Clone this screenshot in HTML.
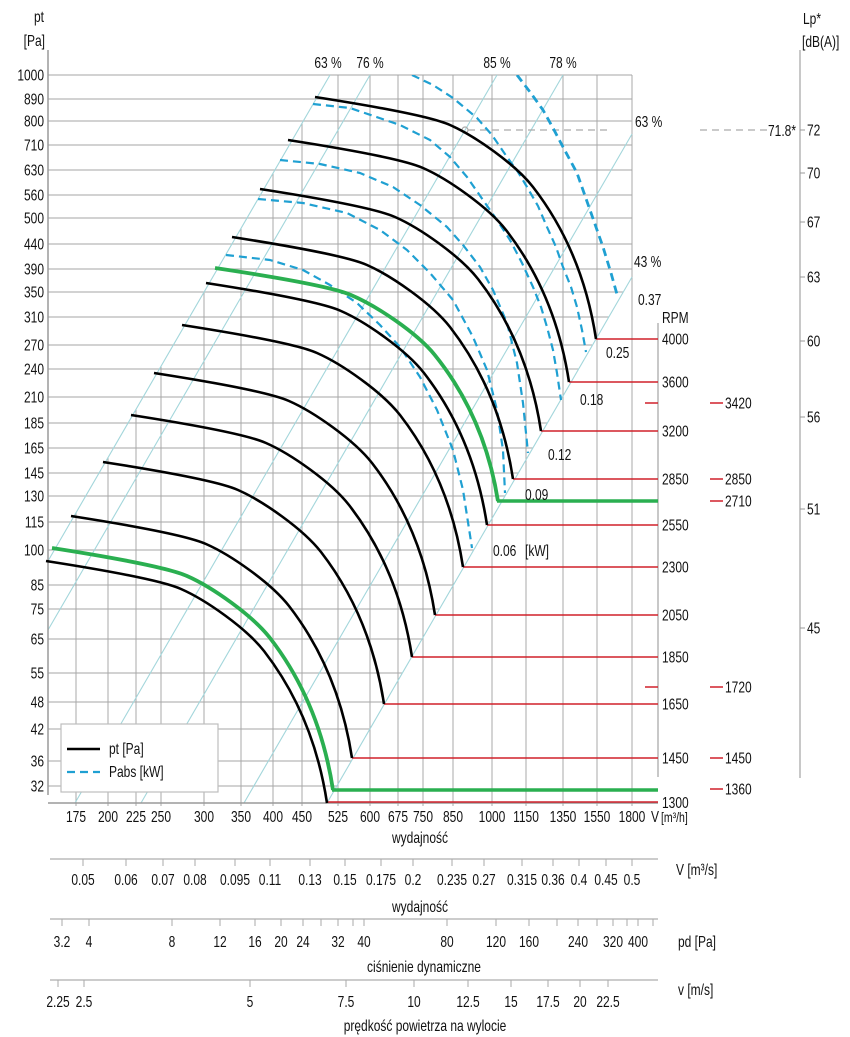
<!DOCTYPE html>
<html><head><meta charset="utf-8"><style>body{margin:0;background:#fff}svg{display:block}</style></head>
<body>
<svg width="850" height="1037" viewBox="0 0 850 1037" xmlns="http://www.w3.org/2000/svg" font-family="'Liberation Sans', Arial, sans-serif" font-size="16" fill="#111">
<defs><clipPath id="pc"><rect x="46" y="75" width="590" height="730"/></clipPath></defs>
<rect width="850" height="1037" fill="#fff"/>

<!-- horizontal grid -->
<g stroke="#b8b8b8" stroke-width="1.3">
<line x1="48" y1="75" x2="632" y2="75"/><line x1="48" y1="99" x2="632" y2="99"/><line x1="48" y1="121" x2="632" y2="121"/><line x1="48" y1="145" x2="632" y2="145"/><line x1="48" y1="170" x2="632" y2="170"/><line x1="48" y1="195" x2="632" y2="195"/><line x1="48" y1="218" x2="632" y2="218"/><line x1="48" y1="244" x2="632" y2="244"/><line x1="48" y1="269" x2="632" y2="269"/><line x1="48" y1="292" x2="623" y2="292"/><line x1="48" y1="317" x2="609" y2="317"/><line x1="48" y1="345" x2="592" y2="345"/><line x1="48" y1="369" x2="579" y2="369"/><line x1="48" y1="397" x2="562" y2="397"/><line x1="48" y1="423" x2="547" y2="423"/><line x1="48" y1="448" x2="533" y2="448"/><line x1="48" y1="473" x2="518" y2="473"/><line x1="48" y1="496" x2="505" y2="496"/><line x1="48" y1="522" x2="490" y2="522"/><line x1="48" y1="550" x2="474" y2="550"/><line x1="48" y1="585" x2="453" y2="585"/><line x1="48" y1="609" x2="439" y2="609"/><line x1="48" y1="639" x2="422" y2="639"/><line x1="48" y1="673" x2="402" y2="673"/><line x1="48" y1="702" x2="386" y2="702"/><line x1="48" y1="729" x2="370" y2="729"/><line x1="48" y1="761" x2="351" y2="761"/><line x1="48" y1="786" x2="337" y2="786"/>
</g>
<!-- vertical grid -->
<g stroke="#a8a8a8" stroke-width="1">
<line x1="76" y1="513" x2="76" y2="806"/><line x1="108" y1="457" x2="108" y2="806"/><line x1="136" y1="409" x2="136" y2="806"/><line x1="161" y1="366" x2="161" y2="806"/><line x1="204" y1="292" x2="204" y2="806"/><line x1="241" y1="228" x2="241" y2="806"/><line x1="273" y1="173" x2="273" y2="806"/><line x1="302" y1="123" x2="302" y2="806"/><line x1="338" y1="75" x2="338" y2="806"/><line x1="370" y1="75" x2="370" y2="806"/><line x1="398" y1="75" x2="398" y2="806"/><line x1="423" y1="75" x2="423" y2="806"/><line x1="453" y1="75" x2="453" y2="806"/><line x1="492" y1="75" x2="492" y2="806"/><line x1="526" y1="75" x2="526" y2="806"/><line x1="563" y1="75" x2="563" y2="806"/><line x1="597" y1="75" x2="597" y2="806"/><line x1="632" y1="75" x2="632" y2="806"/>
</g>
<!-- cyan efficiency lines -->
<g stroke="#a3d6db" stroke-width="1.1">
<line x1="48" y1="561" x2="330" y2="75"/><line x1="48" y1="630" x2="370" y2="75"/><line x1="75" y1="803" x2="497" y2="75"/><line x1="141" y1="803" x2="563" y2="75"/><line x1="244" y1="803" x2="632" y2="134"/><line x1="327" y1="803" x2="632" y2="277"/>
</g>
<!-- axes -->
<g stroke="#9a9a9a" stroke-width="1.5">
<line x1="48" y1="50" x2="48" y2="795"/><line x1="48" y1="803" x2="658" y2="803"/><line x1="658" y1="323" x2="658" y2="777" stroke="#b5b5b5"/><line x1="800" y1="50" x2="800" y2="778" stroke="#b5b5b5"/>
</g>

<!-- 71.8 dashed -->
<g stroke="#aaa" stroke-width="1.2" fill="none">
<line x1="468" y1="130" x2="607" y2="130" stroke-dasharray="7 5"/><circle cx="465" cy="130" r="3"/><line x1="700" y1="130" x2="768" y2="130" stroke-dasharray="7 5"/>
</g>

<!-- red RPM lines -->
<g stroke="#d0202a" stroke-width="1.5">
<line x1="596" y1="339" x2="658" y2="339"/><line x1="569" y1="382" x2="658" y2="382"/><line x1="541" y1="431" x2="658" y2="431"/><line x1="513" y1="479" x2="658" y2="479"/><line x1="487" y1="525" x2="658" y2="525"/><line x1="463" y1="567" x2="658" y2="567"/><line x1="435" y1="615" x2="658" y2="615"/><line x1="412" y1="657" x2="658" y2="657"/><line x1="384" y1="704" x2="658" y2="704"/><line x1="352" y1="758" x2="658" y2="758"/><line x1="327" y1="802" x2="658" y2="802"/>
<line x1="645" y1="403" x2="658" y2="403"/><line x1="645" y1="687" x2="658" y2="687"/>
<line x1="710" y1="403" x2="723" y2="403"/><line x1="710" y1="479" x2="723" y2="479"/><line x1="710" y1="501" x2="723" y2="501"/><line x1="710" y1="687" x2="723" y2="687"/><line x1="710" y1="758" x2="723" y2="758"/><line x1="710" y1="789" x2="723" y2="789"/>
</g>
<g stroke="#2aaf50" stroke-width="3.6">
<line x1="497" y1="501" x2="658" y2="501"/><line x1="332" y1="790" x2="658" y2="790"/>
</g>

<!-- dashed Pabs curves -->
<g clip-path="url(#pc)" fill="none" stroke="#1fa0d2" stroke-width="2.2" stroke-dasharray="8 5" stroke-linejoin="round">
<polyline stroke-width="2.8" points="517,75 530,92 543,110 553,128 563,147 577,173 590,210 603,247 611,273 618,298"/>
<polyline points="412,75 433,85 453,98 477,118 492,135 507,157 518,172 527,187 538,206 547,227 556,247 563,267 571,287 577,307 582,330 586,352"/>
<polyline points="313,104 350,108 400,125 430,140 450,157 467,177 483,200 497,220 510,240 522,263 533,287 541,307 547,327 553,350 557,373 561,400"/>
<polyline points="280,160 320,164 360,173 393,187 420,205 447,227 463,245 480,267 493,290 507,323 517,363 523,403 528,453"/>
<polyline points="258,199 303,203 347,213 380,230 407,250 430,273 453,300 473,337 487,370 497,410 503,450 505,493"/>
<polyline points="226,255 270,260 303,270 330,285 357,303 380,325 400,347 420,377 437,410 453,450 463,490 472,548"/>
</g>

<!-- pt curves -->
<g fill="none" stroke="#000" stroke-width="2.6" stroke-linecap="butt">
<path transform="translate(315,97)" d="M0,0 C45,7 115,19 135,28 C160,39 200,67 218,90 C242,121 270,170 281,242"/>
<path transform="translate(288,140)" d="M0,0 C45,7 115,19 135,28 C160,39 200,67 218,90 C242,121 270,170 281,242"/>
<path transform="translate(260,189)" d="M0,0 C45,7 115,19 135,28 C160,39 200,67 218,90 C242,121 270,170 281,242"/>
<path transform="translate(232,237)" d="M0,0 C45,7 115,19 135,28 C160,39 200,67 218,90 C242,121 270,170 281,242"/>
<path transform="translate(206,283)" d="M0,0 C45,7 115,19 135,28 C160,39 200,67 218,90 C242,121 270,170 281,242"/>
<path transform="translate(182,325)" d="M0,0 C45,7 115,19 135,28 C160,39 200,67 218,90 C242,121 270,170 281,242"/>
<path transform="translate(154,373)" d="M0,0 C45,7 115,19 135,28 C160,39 200,67 218,90 C242,121 270,170 281,242"/>
<path transform="translate(131,415)" d="M0,0 C45,7 115,19 135,28 C160,39 200,67 218,90 C242,121 270,170 281,242"/>
<path transform="translate(103,462)" d="M0,0 C45,7 115,19 135,28 C160,39 200,67 218,90 C242,121 270,170 281,242"/>
<path transform="translate(71,516)" d="M0,0 C45,7 115,19 135,28 C160,39 200,67 218,90 C242,121 270,170 281,242"/>
<path transform="translate(46,561)" d="M0,0 C45,7 115,19 135,28 C160,39 200,67 218,90 C242,121 270,170 281,242"/>
</g>
<g fill="none" stroke="#2aaf50" stroke-width="3.8">
<path transform="translate(52,548)" d="M0,0 C45,7 115,19 135,28 C160,39 200,67 218,90 C242,121 270,170 281,242"/>
<path transform="translate(215,268) scale(1.007,0.963)" vector-effect="non-scaling-stroke" d="M0,0 C45,7 115,19 135,28 C160,39 200,67 218,90 C242,121 270,170 281,242"/>
</g>

<!-- legend -->
<rect x="61" y="724" width="157" height="68" fill="#fff" stroke="#bdbdbd" stroke-width="1.2"/>
<line x1="67" y1="749" x2="100" y2="749" stroke="#000" stroke-width="2.6"/>
<line x1="67" y1="772" x2="100" y2="772" stroke="#1fa0d2" stroke-width="2.2" stroke-dasharray="8 5"/>
<text transform="translate(109,754) scale(.75,1)">pt [Pa]</text>
<text transform="translate(109,777) scale(.75,1)">Pabs [kW]</text>

<!-- y labels -->
<g text-anchor="end">
<text transform="translate(44,22) scale(.75,1)">pt</text>
<text transform="translate(45,46) scale(.75,1)">[Pa]</text>
<text transform="translate(44,80.5) scale(.75,1)">1000</text>
<text transform="translate(44,104.5) scale(.75,1)">890</text>
<text transform="translate(44,126.5) scale(.75,1)">800</text>
<text transform="translate(44,150.5) scale(.75,1)">710</text>
<text transform="translate(44,175.5) scale(.75,1)">630</text>
<text transform="translate(44,200.5) scale(.75,1)">560</text>
<text transform="translate(44,223.5) scale(.75,1)">500</text>
<text transform="translate(44,249.5) scale(.75,1)">440</text>
<text transform="translate(44,274.5) scale(.75,1)">390</text>
<text transform="translate(44,297.5) scale(.75,1)">350</text>
<text transform="translate(44,322.5) scale(.75,1)">310</text>
<text transform="translate(44,350.5) scale(.75,1)">270</text>
<text transform="translate(44,374.5) scale(.75,1)">240</text>
<text transform="translate(44,402.5) scale(.75,1)">210</text>
<text transform="translate(44,428.5) scale(.75,1)">185</text>
<text transform="translate(44,453.5) scale(.75,1)">165</text>
<text transform="translate(44,478.5) scale(.75,1)">145</text>
<text transform="translate(44,501.5) scale(.75,1)">130</text>
<text transform="translate(44,527.5) scale(.75,1)">115</text>
<text transform="translate(44,555.5) scale(.75,1)">100</text>
<text transform="translate(44,590.5) scale(.75,1)">85</text>
<text transform="translate(44,614.5) scale(.75,1)">75</text>
<text transform="translate(44,644.5) scale(.75,1)">65</text>
<text transform="translate(44,678.5) scale(.75,1)">55</text>
<text transform="translate(44,707.5) scale(.75,1)">48</text>
<text transform="translate(44,734.5) scale(.75,1)">42</text>
<text transform="translate(44,766.5) scale(.75,1)">36</text>
<text transform="translate(44,791.5) scale(.75,1)">32</text>
</g>

<!-- top / efficiency labels -->
<g text-anchor="middle">
<text transform="translate(328,68) scale(.75,1)">63 %</text>
<text transform="translate(370,68) scale(.75,1)">76 %</text>
<text transform="translate(497,68) scale(.75,1)">85 %</text>
<text transform="translate(563,68) scale(.75,1)">78 %</text>
</g>
<text transform="translate(635,127) scale(.75,1)">63 %</text>
<text transform="translate(634,267) scale(.75,1)">43 %</text>
<text transform="translate(638,305) scale(.75,1)">0.37</text>
<text transform="translate(606,358) scale(.75,1)">0.25</text>
<text transform="translate(580,405) scale(.75,1)">0.18</text>
<text transform="translate(548,460) scale(.75,1)">0.12</text>
<text transform="translate(525,500) scale(.75,1)">0.09</text>
<text transform="translate(493,556) scale(.75,1)">0.06</text>
<text transform="translate(525,556) scale(.75,1)">[kW]</text>

<!-- RPM labels -->
<text transform="translate(662,323) scale(.75,1)">RPM</text>
<text transform="translate(662,344.5) scale(.75,1)">4000</text>
<text transform="translate(662,387.5) scale(.75,1)">3600</text>
<text transform="translate(662,436.5) scale(.75,1)">3200</text>
<text transform="translate(662,484.5) scale(.75,1)">2850</text>
<text transform="translate(662,530.5) scale(.75,1)">2550</text>
<text transform="translate(662,572.5) scale(.75,1)">2300</text>
<text transform="translate(662,620.5) scale(.75,1)">2050</text>
<text transform="translate(662,662.5) scale(.75,1)">1850</text>
<text transform="translate(662,709.5) scale(.75,1)">1650</text>
<text transform="translate(662,763.5) scale(.75,1)">1450</text>
<text transform="translate(662,808) scale(.75,1)">1300</text>
<text transform="translate(725,408.5) scale(.75,1)">3420</text>
<text transform="translate(725,484.5) scale(.75,1)">2850</text>
<text transform="translate(725,506.5) scale(.75,1)">2710</text>
<text transform="translate(725,692.5) scale(.75,1)">1720</text>
<text transform="translate(725,763.5) scale(.75,1)">1450</text>
<text transform="translate(725,794.5) scale(.75,1)">1360</text>

<!-- Lp axis -->
<text transform="translate(803,24) scale(.75,1)">Lp*</text>
<text transform="translate(802,47) scale(.75,1)">[dB(A)]</text>
<text transform="translate(768,136) scale(.75,1)">71.8*</text>
<g stroke="#999" stroke-width="1">
<line x1="800" y1="130" x2="805" y2="130"/><line x1="800" y1="173" x2="805" y2="173"/><line x1="800" y1="222" x2="805" y2="222"/><line x1="800" y1="277" x2="805" y2="277"/><line x1="800" y1="341" x2="805" y2="341"/><line x1="800" y1="417" x2="805" y2="417"/><line x1="800" y1="509" x2="805" y2="509"/><line x1="800" y1="628" x2="805" y2="628"/>
</g>
<text transform="translate(807,135.5) scale(.75,1)">72</text>
<text transform="translate(807,178.5) scale(.75,1)">70</text>
<text transform="translate(807,227.5) scale(.75,1)">67</text>
<text transform="translate(807,282.5) scale(.75,1)">63</text>
<text transform="translate(807,346.5) scale(.75,1)">60</text>
<text transform="translate(807,422.5) scale(.75,1)">56</text>
<text transform="translate(807,514.5) scale(.75,1)">51</text>
<text transform="translate(807,633.5) scale(.75,1)">45</text>

<!-- x labels -->
<g text-anchor="middle">
<text transform="translate(76,822) scale(.75,1)">175</text>
<text transform="translate(108,822) scale(.75,1)">200</text>
<text transform="translate(136,822) scale(.75,1)">225</text>
<text transform="translate(161,822) scale(.75,1)">250</text>
<text transform="translate(204,822) scale(.75,1)">300</text>
<text transform="translate(241,822) scale(.75,1)">350</text>
<text transform="translate(273,822) scale(.75,1)">400</text>
<text transform="translate(302,822) scale(.75,1)">450</text>
<text transform="translate(338,822) scale(.75,1)">525</text>
<text transform="translate(370,822) scale(.75,1)">600</text>
<text transform="translate(398,822) scale(.75,1)">675</text>
<text transform="translate(423,822) scale(.75,1)">750</text>
<text transform="translate(453,822) scale(.75,1)">850</text>
<text transform="translate(492,822) scale(.75,1)">1000</text>
<text transform="translate(526,822) scale(.75,1)">1150</text>
<text transform="translate(563,822) scale(.75,1)">1350</text>
<text transform="translate(597,822) scale(.75,1)">1550</text>
<text transform="translate(632,822) scale(.75,1)">1800</text>
<text transform="translate(420,843) scale(.75,1)">wydajność</text>
</g>
<text transform="translate(651,822) scale(.75,1)">V</text>
<text transform="translate(661,822) scale(.75,1)" font-size="14">[m³/h]</text>

<!-- secondary axes -->
<g stroke="#c4c4c4" stroke-width="1.8">
<line x1="50" y1="859" x2="658" y2="859"/><line x1="50" y1="919" x2="658" y2="919"/><line x1="50" y1="980" x2="658" y2="980"/>
</g>
<g stroke="#aaa" stroke-width="1">
<line x1="83" y1="859" x2="83" y2="866"/><line x1="126" y1="859" x2="126" y2="866"/><line x1="163" y1="859" x2="163" y2="866"/><line x1="195" y1="859" x2="195" y2="866"/><line x1="235" y1="859" x2="235" y2="866"/><line x1="270" y1="859" x2="270" y2="866"/><line x1="310" y1="859" x2="310" y2="866"/><line x1="345" y1="859" x2="345" y2="866"/><line x1="381" y1="859" x2="381" y2="866"/><line x1="413" y1="859" x2="413" y2="866"/><line x1="452" y1="859" x2="452" y2="866"/><line x1="484" y1="859" x2="484" y2="866"/><line x1="522" y1="859" x2="522" y2="866"/><line x1="553" y1="859" x2="553" y2="866"/><line x1="579" y1="859" x2="579" y2="866"/><line x1="606" y1="859" x2="606" y2="866"/><line x1="632" y1="859" x2="632" y2="866"/>
<line x1="62" y1="919" x2="62" y2="926"/><line x1="89" y1="919" x2="89" y2="926"/><line x1="172" y1="919" x2="172" y2="926"/><line x1="220" y1="919" x2="220" y2="926"/><line x1="255" y1="919" x2="255" y2="926"/><line x1="281" y1="919" x2="281" y2="926"/><line x1="303" y1="919" x2="303" y2="926"/><line x1="321" y1="919" x2="321" y2="926"/><line x1="338" y1="919" x2="338" y2="926"/><line x1="353" y1="919" x2="353" y2="926"/><line x1="364" y1="919" x2="364" y2="926"/><line x1="447" y1="919" x2="447" y2="926"/><line x1="496" y1="919" x2="496" y2="926"/><line x1="529" y1="919" x2="529" y2="926"/><line x1="557" y1="919" x2="557" y2="926"/><line x1="578" y1="919" x2="578" y2="926"/><line x1="597" y1="919" x2="597" y2="926"/><line x1="613" y1="919" x2="613" y2="926"/><line x1="627" y1="919" x2="627" y2="926"/><line x1="638" y1="919" x2="638" y2="926"/><line x1="653" y1="919" x2="653" y2="926"/>
<line x1="58" y1="980" x2="58" y2="987"/><line x1="84" y1="980" x2="84" y2="987"/><line x1="250" y1="980" x2="250" y2="987"/><line x1="346" y1="980" x2="346" y2="987"/><line x1="414" y1="980" x2="414" y2="987"/><line x1="468" y1="980" x2="468" y2="987"/><line x1="511" y1="980" x2="511" y2="987"/><line x1="548" y1="980" x2="548" y2="987"/><line x1="580" y1="980" x2="580" y2="987"/><line x1="608" y1="980" x2="608" y2="987"/>
</g>
<g text-anchor="middle">
<text transform="translate(83,885) scale(.75,1)">0.05</text>
<text transform="translate(126,885) scale(.75,1)">0.06</text>
<text transform="translate(163,885) scale(.75,1)">0.07</text>
<text transform="translate(195,885) scale(.75,1)">0.08</text>
<text transform="translate(235,885) scale(.75,1)">0.095</text>
<text transform="translate(270,885) scale(.75,1)">0.11</text>
<text transform="translate(310,885) scale(.75,1)">0.13</text>
<text transform="translate(345,885) scale(.75,1)">0.15</text>
<text transform="translate(381,885) scale(.75,1)">0.175</text>
<text transform="translate(413,885) scale(.75,1)">0.2</text>
<text transform="translate(452,885) scale(.75,1)">0.235</text>
<text transform="translate(484,885) scale(.75,1)">0.27</text>
<text transform="translate(522,885) scale(.75,1)">0.315</text>
<text transform="translate(553,885) scale(.75,1)">0.36</text>
<text transform="translate(579,885) scale(.75,1)">0.4</text>
<text transform="translate(606,885) scale(.75,1)">0.45</text>
<text transform="translate(632,885) scale(.75,1)">0.5</text>
<text transform="translate(420,912) scale(.75,1)">wydajność</text>

<text transform="translate(62,947) scale(.75,1)">3.2</text>
<text transform="translate(89,947) scale(.75,1)">4</text>
<text transform="translate(172,947) scale(.75,1)">8</text>
<text transform="translate(220,947) scale(.75,1)">12</text>
<text transform="translate(255,947) scale(.75,1)">16</text>
<text transform="translate(281,947) scale(.75,1)">20</text>
<text transform="translate(303,947) scale(.75,1)">24</text>
<text transform="translate(338,947) scale(.75,1)">32</text>
<text transform="translate(364,947) scale(.75,1)">40</text>
<text transform="translate(447,947) scale(.75,1)">80</text>
<text transform="translate(496,947) scale(.75,1)">120</text>
<text transform="translate(529,947) scale(.75,1)">160</text>
<text transform="translate(578,947) scale(.75,1)">240</text>
<text transform="translate(613,947) scale(.75,1)">320</text>
<text transform="translate(638,947) scale(.75,1)">400</text>
<text transform="translate(424,972) scale(.75,1)">ciśnienie dynamiczne</text>

<text transform="translate(58,1007) scale(.75,1)">2.25</text>
<text transform="translate(84,1007) scale(.75,1)">2.5</text>
<text transform="translate(250,1007) scale(.75,1)">5</text>
<text transform="translate(346,1007) scale(.75,1)">7.5</text>
<text transform="translate(414,1007) scale(.75,1)">10</text>
<text transform="translate(468,1007) scale(.75,1)">12.5</text>
<text transform="translate(511,1007) scale(.75,1)">15</text>
<text transform="translate(548,1007) scale(.75,1)">17.5</text>
<text transform="translate(580,1007) scale(.75,1)">20</text>
<text transform="translate(608,1007) scale(.75,1)">22.5</text>
<text transform="translate(425,1031) scale(.75,1)">prędkość powietrza na wylocie</text>
</g>
<text transform="translate(676,875) scale(.75,1)">V  [m³/s]</text>
<text transform="translate(678,947) scale(.75,1)">pd  [Pa]</text>
<text transform="translate(678,995) scale(.75,1)">v  [m/s]</text>
</svg>
</body></html>
